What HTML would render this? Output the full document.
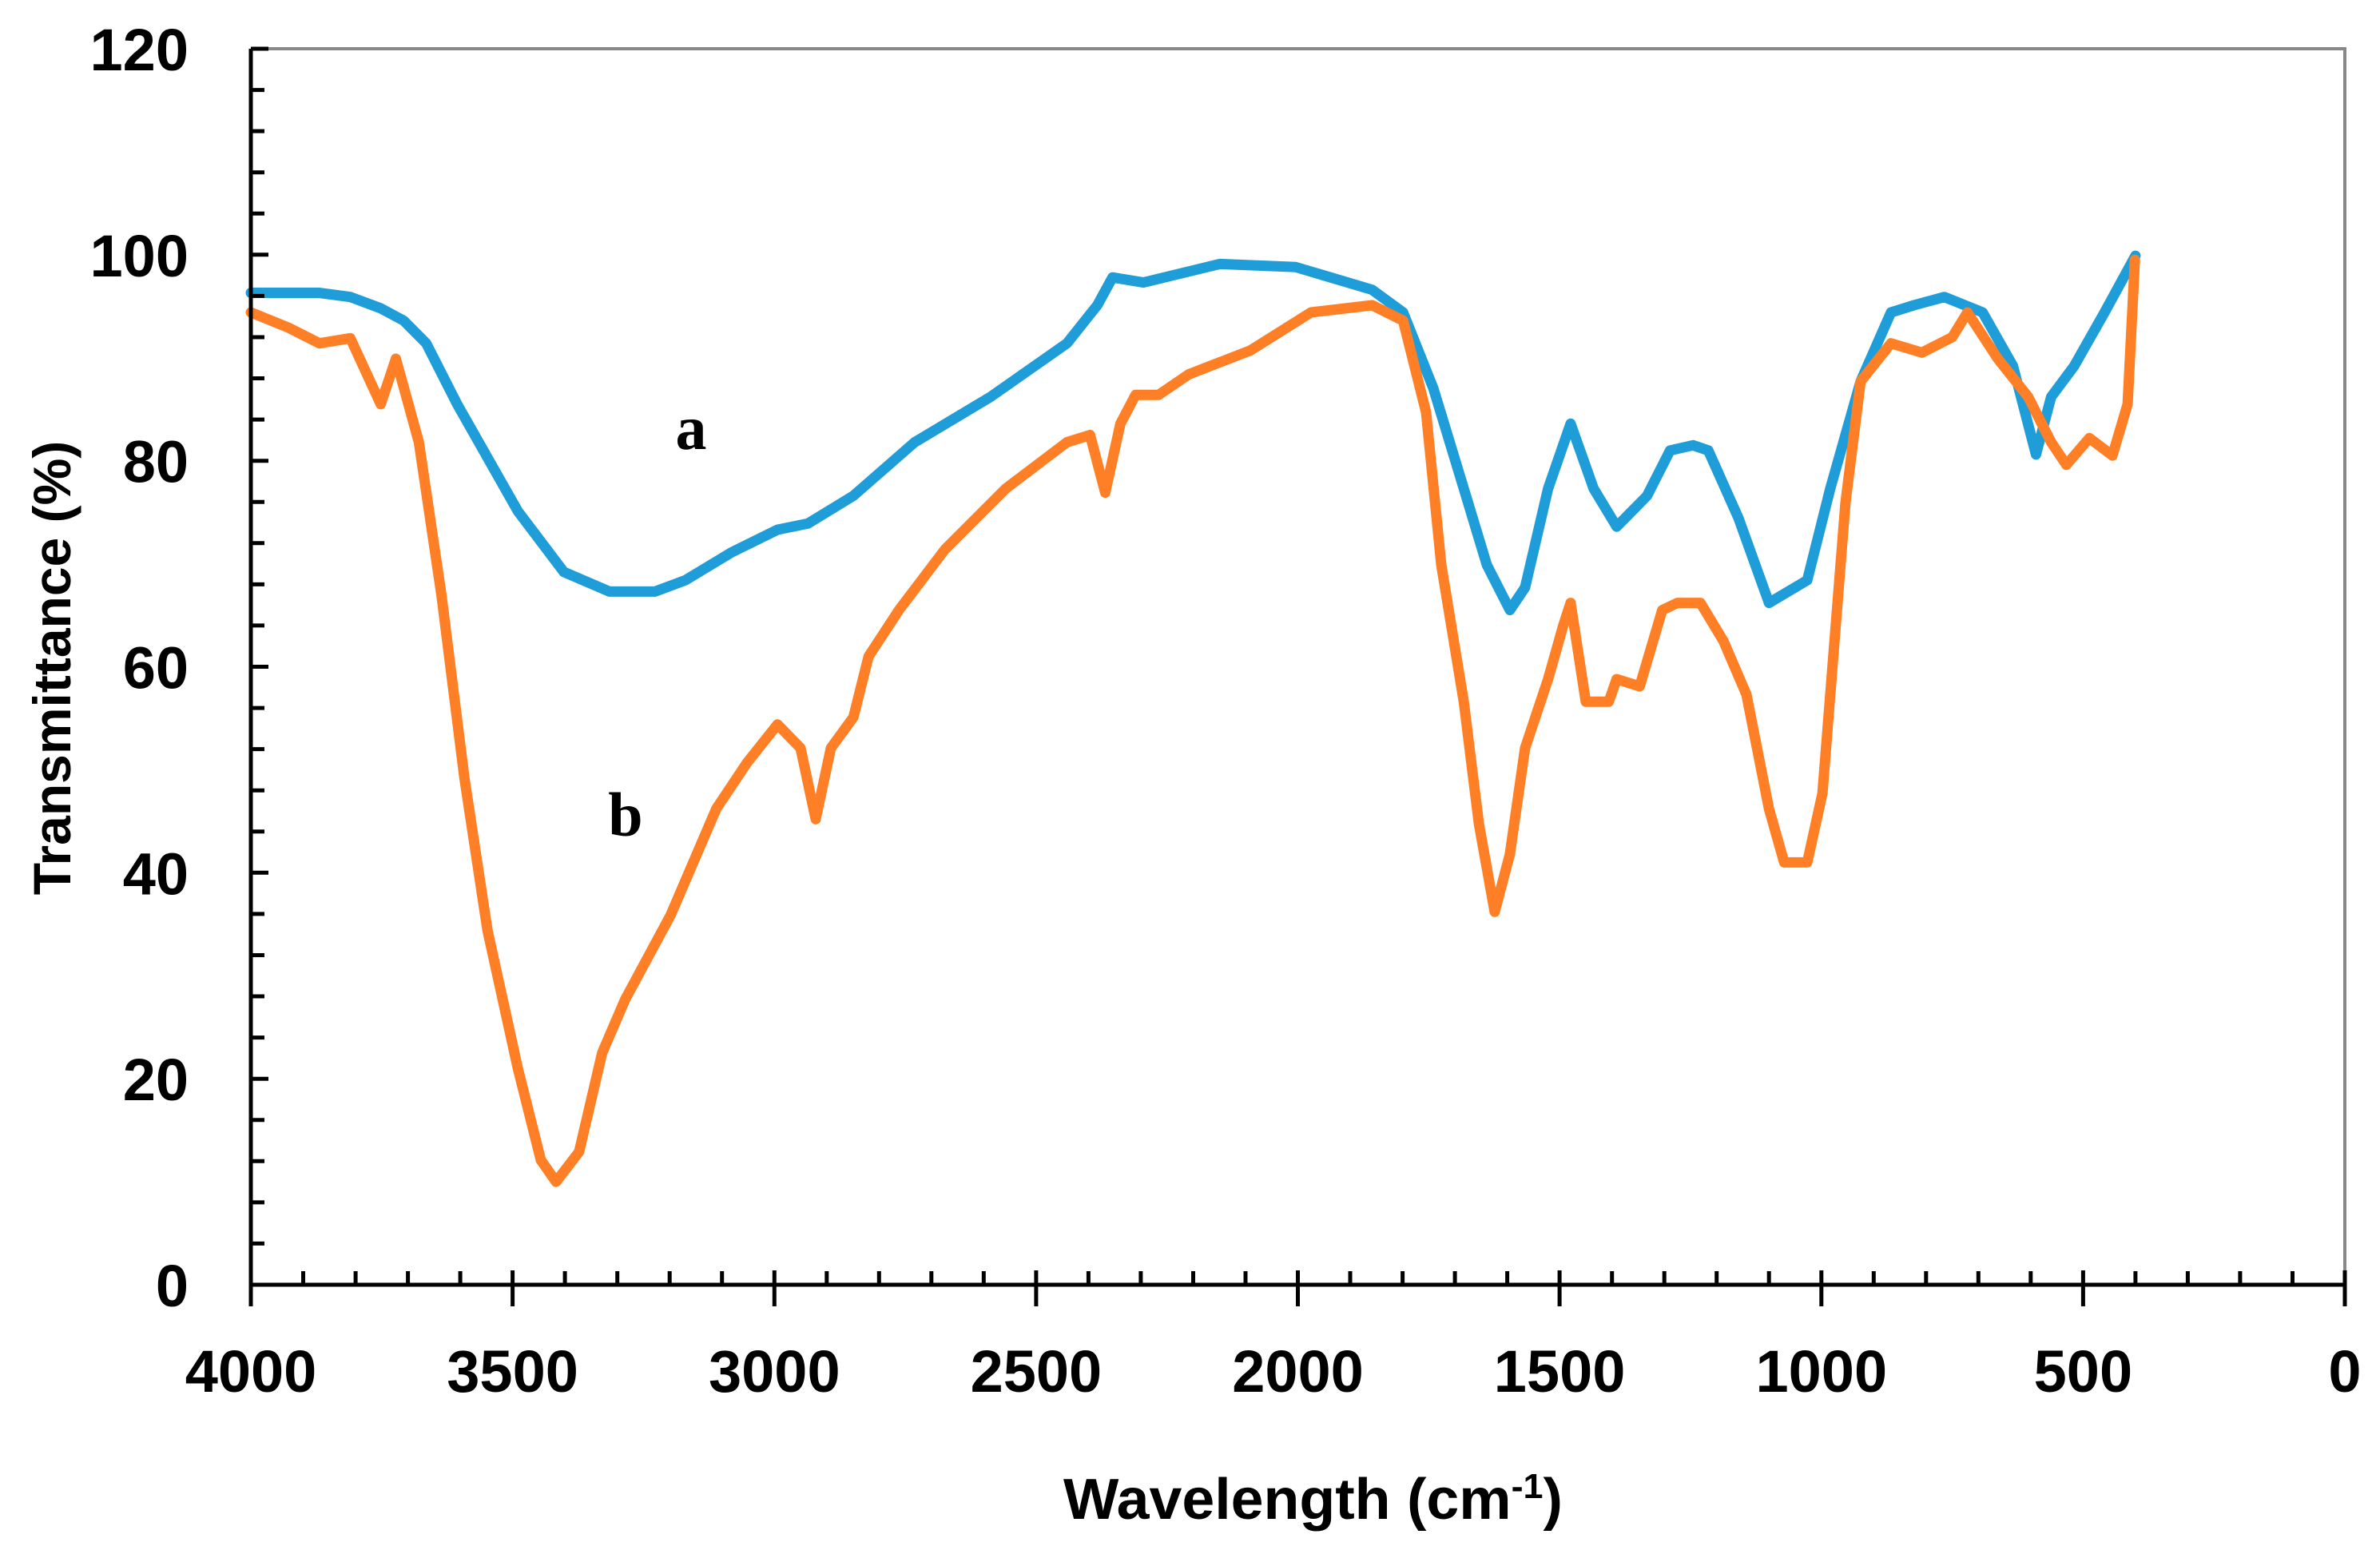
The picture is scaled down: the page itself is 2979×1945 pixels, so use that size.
<!DOCTYPE html>
<html><head><meta charset="utf-8"><style>
html,body{margin:0;padding:0;background:#fff;}
svg{display:block;}
text{font-family:"Liberation Sans",sans-serif;font-weight:bold;fill:#000;}
</style></head><body>
<svg id="chart" width="2979" height="1945" viewBox="0 0 2979 1945" xmlns="http://www.w3.org/2000/svg">
<g id="frame"></g>
<g id="series"></g>
<g id="axes"></g>
<text x="865" y="562" style="font-family:'Liberation Serif',serif" font-size="78" text-anchor="middle">a</text>
<text x="783" y="1046" style="font-family:'Liberation Serif',serif" font-size="78" text-anchor="middle">b</text>
<text transform="translate(88,836) rotate(-90)" font-size="66" text-anchor="middle">Transmittance (%)</text>
<text x="1331" y="1901" font-size="72" textLength="625" lengthAdjust="spacingAndGlyphs">Wavelength (cm<tspan dy="-26" font-size="44">-1</tspan><tspan dy="26">)</tspan></text>
</svg>
<script>
const xTicks = [4000,3500,3000,2500,2000,1500,1000,500,0];
const yTicks = [0,20,40,60,80,100,120];
const aWave = [4000,3870,3810,3752,3708,3665,3606,3548,3490,3402,3315,3228,3170,3082,2994,2936,2849,2732,2587,2441,2383,2354,2295,2149,2004,1858,1799,1741,1683,1639,1595,1566,1522,1479,1435,1391,1333,1289,1245,1216,1158,1100,1027,983,925,867,823,765,692,634,590,561,517,459,400];
const aTrans = [96.3,96.3,95.9,94.8,93.6,91.4,85.5,80.3,75.1,69.2,67.3,67.3,68.4,71.1,73.3,73.9,76.6,81.8,86.2,91.4,95.1,97.8,97.3,99.1,98.8,96.6,94.4,87.0,77.3,69.9,65.5,67.7,77.3,83.6,77.3,73.6,76.6,81.0,81.5,81.0,74.4,66.2,68.4,77.3,87.7,94.4,95.1,95.9,94.4,89.2,80.6,86.2,89.2,94.4,99.9];
const bWave = [4000,3927,3869,3810,3752,3723,3679,3636,3592,3548,3490,3446,3417,3373,3329,3285,3198,3111,3052,2994,2950,2921,2892,2849,2820,2762,2674,2558,2441,2397,2368,2339,2310,2266,2208,2091,1975,1858,1799,1755,1726,1683,1654,1624,1595,1566,1522,1493,1479,1450,1406,1391,1347,1304,1275,1231,1187,1143,1100,1071,1027,998,954,925,867,808,750,721,663,605,561,532,488,444,415,401];
const bTrans = [94.4,92.9,91.4,91.9,85.5,89.9,81.8,67,49.2,34.4,21,12.1,10,12.9,22.5,27.7,35.9,46.2,50.7,54.4,52.1,45.2,52.1,55.1,61,65.5,71.4,77.3,81.8,82.5,76.9,83.6,86.4,86.4,88.4,90.7,94.4,95.1,93.6,84.7,69.9,56.6,44.7,36.2,41.8,52.1,58.8,64,66.2,56.6,56.6,58.8,58.1,65.5,66.2,66.2,62.5,57.3,46.2,41,41,47.7,75.9,87.7,91.4,90.5,92,94.4,89.9,86.2,81.8,79.6,82.2,80.5,85.5,99.5];

const NS='http://www.w3.org/2000/svg';
const X0=314, X1=2935, Y0=1608, Y1=61;
const sx = w => X0 + (4000 - w) / 4000 * (X1 - X0);
const sy = v => Y0 - v / 120 * (Y0 - Y1);
function mk(tag, parent){const e=document.createElementNS(NS,tag);document.getElementById(parent).appendChild(e);return e;}

let fr = mk('path','frame');
fr.setAttribute('d',`M${X0},${Y1} H${X1} V${Y0}`);
fr.setAttribute('fill','none');fr.setAttribute('stroke','#888');fr.setAttribute('stroke-width','4');



function drawSeries(wv, tv, color, name){
  const p = mk('path','series');
  p.setAttribute('d', wv.map((w,i)=>(i?'L':'M')+sx(w).toFixed(1)+','+sy(tv[i]).toFixed(1)).join(' '));
  p.setAttribute('fill','none');p.setAttribute('stroke',color);p.setAttribute('stroke-width','13');
  p.setAttribute('stroke-linejoin','round');p.setAttribute('stroke-linecap','round');
  
  
}
drawSeries(aWave, aTrans, '#1e9dd8', 'series-a-line');
drawSeries(bWave, bTrans, '#ff7f27', 'series-b-line');

let ax = mk('path','axes');
ax.setAttribute('d',`M${X0},${Y1} V${Y0} H${X1}`);
ax.setAttribute('fill','none');ax.setAttribute('stroke','#000');ax.setAttribute('stroke-width','5');



let d='';
for(let v=0; v<=120; v+=4){ const y=sy(v); const len = (v%20===0)?22:17; d+=`M${X0},${y.toFixed(1)} h${len} `; }
for(let w=0; w<=4000; w+=100){ const x=sx(w); if(w%500===0) d+=`M${x.toFixed(1)},${Y0-18} V${Y0+27} `; else d+=`M${x.toFixed(1)},${Y0-17} V${Y0} `; }
let tk = mk('path','axes');
tk.setAttribute('d',d);tk.setAttribute('stroke','#000');tk.setAttribute('stroke-width','5');



yTicks.forEach(v=>{
  const t = mk('text','axes');
  t.setAttribute('x', 236); t.setAttribute('y', (sy(v)+27).toFixed(1));
  t.setAttribute('text-anchor','end'); t.setAttribute('font-size','74');
  t.textContent = v;
  
  
});
xTicks.forEach(w=>{
  const t = mk('text','axes');
  t.setAttribute('x', sx(w).toFixed(1)); t.setAttribute('y', 1742);
  t.setAttribute('text-anchor','middle'); t.setAttribute('font-size','74');
  t.textContent = w;
  
  
});
</script>
</body></html>
